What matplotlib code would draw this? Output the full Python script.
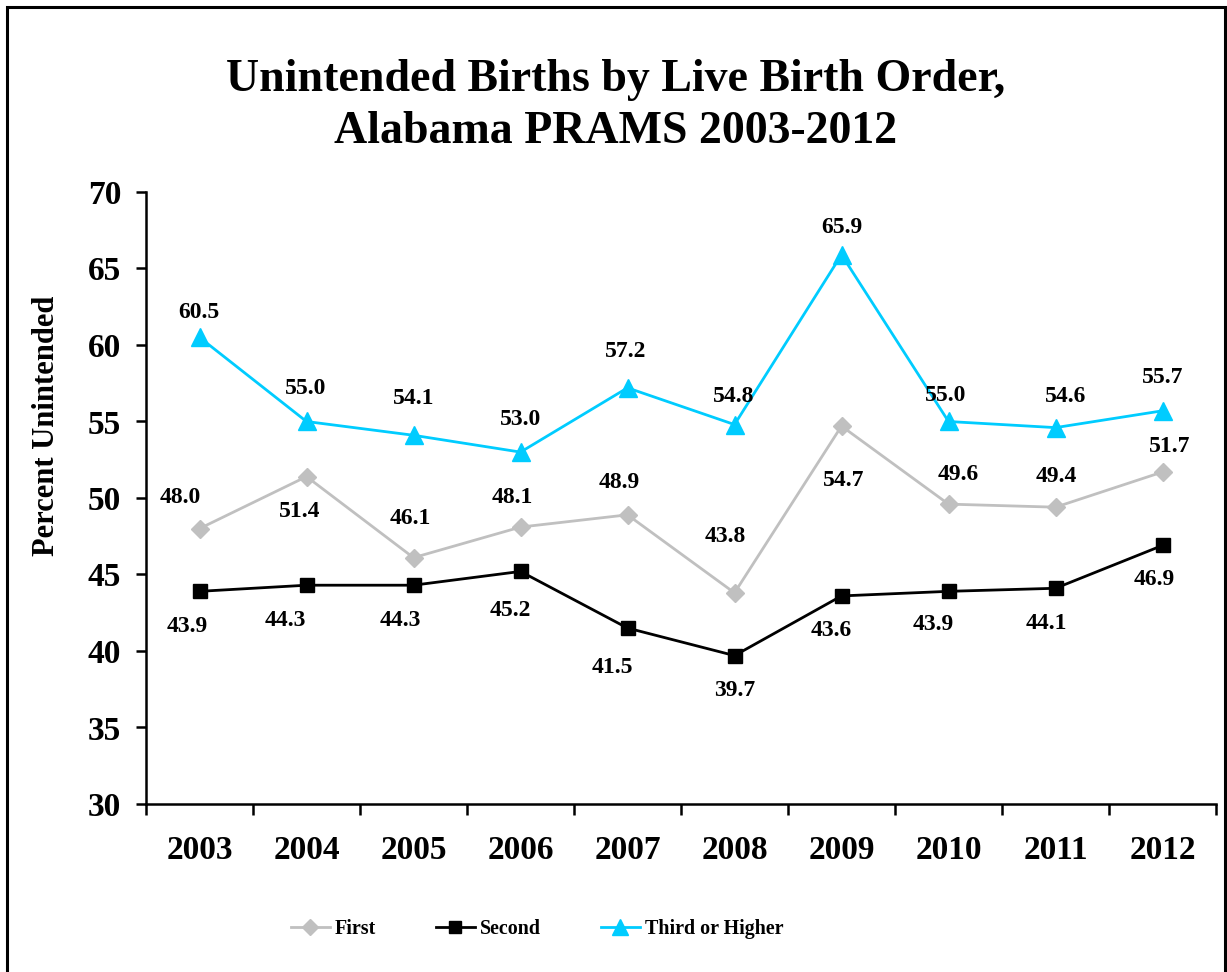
import numpy as np
import matplotlib
matplotlib.use("Agg")
import matplotlib.pyplot as plt
from matplotlib.patches import Rectangle
from matplotlib.ticker import FixedLocator, NullFormatter

plt.rcParams['font.family'] = ['Liberation Serif', 'DejaVu Serif']
plt.rcParams['font.weight'] = 'bold'

years = ['2003', '2004', '2005', '2006', '2007', '2008', '2009', '2010', '2011', '2012']
first = [48.0, 51.4, 46.1, 48.1, 48.9, 43.8, 54.7, 49.6, 49.4, 51.7]
second = [43.9, 44.3, 44.3, 45.2, 41.5, 39.7, 43.6, 43.9, 44.1, 46.9]
third = [60.5, 55.0, 54.1, 53.0, 57.2, 54.8, 65.9, 55.0, 54.6, 55.7]

# label offsets in pixels (dx, dy)
first_off = [(-19, 31), (-7, -35), (-3, 39), (-8, 30), (-8, 32),
             (-9, 56), (2, -54), (10, 30), (1, 31), (7, 25)]
second_off = [(-12, -35), (-21, -35), (-13, -35), (-10, -39), (-15, -39),
              (0, -35), (-10, -35), (-15, -33), (-9, -35), (-8, -34)]
third_off = [(-1, 25), (-1, 33), (0, 37), (0, 33), (-2, 36),
             (-1, 28), (0, 27), (-3, 26), (10, 31), (0, 33)]

fig = plt.figure(figsize=(12.27, 9.72), dpi=100)
ax = fig.add_axes([146 / 1227, 1 - 804 / 972, (1216 - 146) / 1227, (804 - 192) / 972])

x = np.arange(len(years))
series = [
    ('First', first, '#C0C0C0', 'D', 9, first_off),
    ('Second', second, '#000000', 's', 10, second_off),
    ('Third or Higher', third, '#00CCFF', '^', 13, third_off),
]
for name, vals, col, mk, ms, offs in series:
    ax.plot(x, vals, color=col, lw=2.0, marker=mk, ms=ms, label=name)
    for xi, v, (dx, dy) in zip(x, vals, offs):
        ax.annotate(f'{v:.1f}', (xi, v), xytext=(dx, dy), textcoords='offset pixels',
                    ha='center', va='center', fontsize=17, fontweight='bold')

ax.set_xlim(-0.5, len(years) - 0.5)
ax.set_ylim(30, 70)
ax.set_yticks(np.arange(30, 71, 5))
ax.tick_params(axis='y', labelsize=24, length=7, width=1.8, pad=11)
ax.xaxis.set_major_locator(FixedLocator(np.arange(-0.5, len(years), 1)))
ax.xaxis.set_major_formatter(NullFormatter())
ax.xaxis.set_minor_locator(FixedLocator(x))
ax.set_xticklabels(years, minor=True)
ax.tick_params(axis='x', which='major', length=8, width=1.8)
ax.tick_params(axis='x', which='minor', length=0, labelsize=24, pad=22)

for s in ['top', 'right']:
    ax.spines[s].set_visible(False)
for s in ['left', 'bottom']:
    ax.spines[s].set_linewidth(1.8)

ax.set_ylabel('Percent Unintended', fontsize=22, fontweight='bold')
ax.yaxis.set_label_coords(-0.0795, 0.618)

fig.text(616 / 1227, 1 - 106 / 972, 'Unintended Births by Live Birth Order,\nAlabama PRAMS 2003-2012',
         ha='center', va='center', fontsize=33, fontweight='bold', linespacing=1.3)

leg = fig.legend(loc='center', bbox_to_anchor=(537 / 1227, 1 - 929 / 972), ncol=3,
                 frameon=False, fontsize=14.4, handlelength=1.95, columnspacing=3.0,
                 handletextpad=0.25, markerscale=0.85)

fig.add_artist(Rectangle((7 / 1227, -0.01), (1225 - 7) / 1227, 1.01 - 7 / 972,
                         transform=fig.transFigure, fill=False, lw=2.2, ec='black'))

fig.savefig('out.png', dpi=100)
